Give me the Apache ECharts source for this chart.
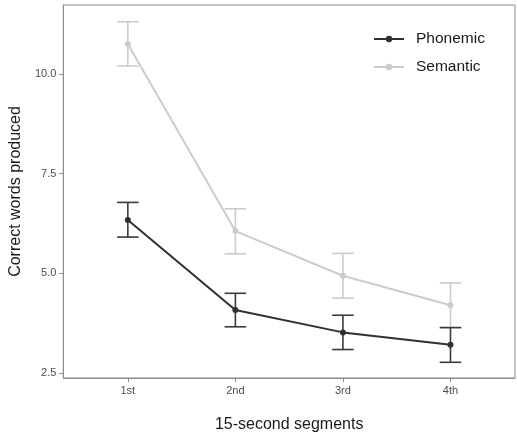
<!DOCTYPE html>
<html>
<head>
<meta charset="utf-8">
<script src="https://cdn.jsdelivr.net/npm/echarts@6/dist/echarts.min.js"></script>
<style>html,body{margin:0;padding:0;background:#fff}#c{width:517px;height:438px}</style>
</head>
<body>
<div id="c"></div>
<script>
const categories = ['1st', '2nd', '3rd', '4th'];
const phonemicMean = [6.34, 4.08, 3.52, 3.21];
const phonemicLow  = [5.91, 3.66, 3.09, 2.77];
const phonemicHigh = [6.78, 4.50, 3.95, 3.64];
const semanticMean = [10.75, 6.06, 4.94, 4.20];
const semanticLow  = [10.20, 5.49, 4.38, 3.64];
const semanticHigh = [11.31, 6.62, 5.50, 4.76];
const yTicks = [2.5, 5.0, 7.5, 10.0];

const xPos = categories.map((c, i) => i + 1);
const toPts = arr => arr.map((v, i) => [xPos[i], v]);
const toErr = (lo, hi) => lo.map((v, i) => [xPos[i], v, hi[i]]);

function errRender(color) {
  return function (params, api) {
    const x = api.value(0);
    const lo = api.coord([x, api.value(1)]);
    const hi = api.coord([x, api.value(2)]);
    const hw = api.size([0.1, 0])[0];
    const style = { stroke: color, lineWidth: 1.6 };
    return {
      type: 'group',
      children: [
        { type: 'line', shape: { x1: lo[0], y1: lo[1], x2: hi[0], y2: hi[1] }, style },
        { type: 'line', shape: { x1: lo[0] - hw, y1: lo[1], x2: lo[0] + hw, y2: lo[1] }, style },
        { type: 'line', shape: { x1: hi[0] - hw, y1: hi[1], x2: hi[0] + hw, y2: hi[1] }, style }
      ]
    };
  };
}

const chart = echarts.init(document.getElementById('c'), null, { renderer: 'canvas' });
const axisGray = '#8c8c8c';
chart.setOption({
  animation: false,
  backgroundColor: '#fff',
  textStyle: { fontFamily: 'Liberation Sans, Arial, sans-serif' },
  grid: { left: 61, top: 5, right: 2, bottom: 54, show: true, borderColor: axisGray, borderWidth: 1, backgroundColor: 'transparent' },
  legend: {
    orient: 'vertical',
    left: 373,
    top: 30,
    padding: 0,
    itemWidth: 30,
    itemHeight: 8,
    itemGap: 10,
    textStyle: { fontSize: 15.5, lineHeight: 18, color: '#1a1a1a', padding: [0, 0, 0, 7] },
    data: ['Phonemic', 'Semantic']
  },
  xAxis: {
    type: 'value',
    min: 0.4,
    max: 4.6,
    splitLine: { show: false },
    axisLine: { show: true, lineStyle: { color: axisGray } },
    axisTick: { show: true, length: 4, customValues: xPos, lineStyle: { color: axisGray } },
    axisLabel: {
      customValues: xPos,
      formatter: v => categories[Math.round(v) - 1] || '',
      fontSize: 11, color: '#4d4d4d', margin: 7
    },
    name: '15-second segments',
    nameLocation: 'middle',
    nameGap: 39,
    nameTextStyle: { fontSize: 16, color: '#1a1a1a' }
  },
  yAxis: {
    type: 'value',
    min: 2.376,
    max: 11.73,
    splitLine: { show: false },
    axisLine: { show: true, lineStyle: { color: axisGray } },
    axisTick: { show: true, length: 4, customValues: yTicks, lineStyle: { color: axisGray } },
    axisLabel: {
      customValues: yTicks,
      formatter: v => v.toFixed(1),
      fontSize: 11, color: '#4d4d4d', margin: 7
    },
    name: 'Correct words produced',
    nameLocation: 'middle',
    nameGap: 25,
    nameRotate: 90,
    nameTextStyle: { fontSize: 16, color: '#1a1a1a' }
  },
  series: [
    {
      name: 'SemanticErr', type: 'custom', renderItem: errRender('#cccccc'),
      data: toErr(semanticLow, semanticHigh), z: 1, silent: true
    },
    {
      name: 'Semantic', type: 'line', data: toPts(semanticMean),
      symbol: 'circle', symbolSize: 6,
      itemStyle: { color: '#cccccc' }, lineStyle: { color: '#cccccc', width: 2 }, z: 2
    },
    {
      name: 'PhonemicErr', type: 'custom', renderItem: errRender('#3a3a3a'),
      data: toErr(phonemicLow, phonemicHigh), z: 3, silent: true
    },
    {
      name: 'Phonemic', type: 'line', data: toPts(phonemicMean),
      symbol: 'circle', symbolSize: 6,
      itemStyle: { color: '#303030' }, lineStyle: { color: '#303030', width: 2 }, z: 4
    }
  ]
});
</script>
</body>
</html>
